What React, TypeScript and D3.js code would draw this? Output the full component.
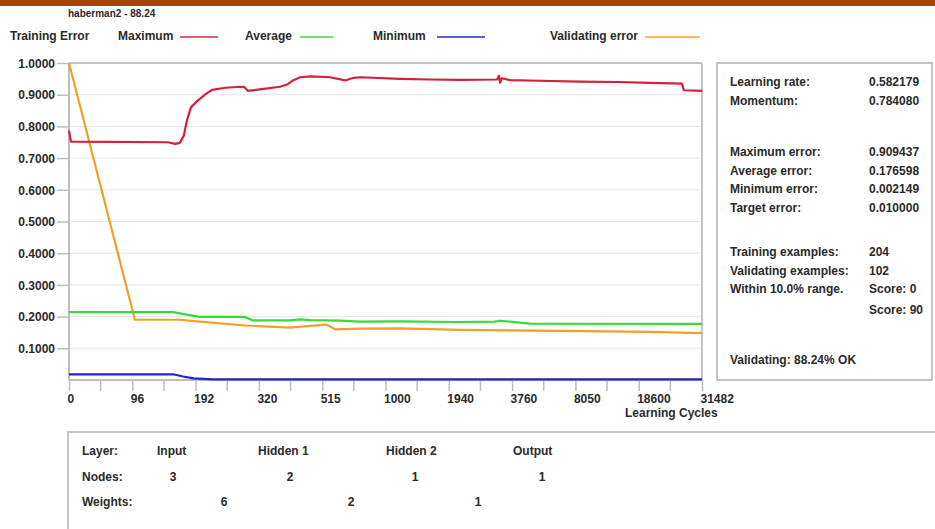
import { useEffect, useRef } from 'react';
import * as d3 from 'd3';

// x axis tick values (learning cycles, uneven spacing)
const cycleTicks = [0, 96, 192, 320, 515, 1000, 1940, 3760, 8050, 18600, 31482];
const errorTicks = [0.1, 0.2, 0.3, 0.4, 0.5, 0.6, 0.7, 0.8, 0.9, 1.0];

// series: [cycle, error]
const maximum: [number, number][] = [
  [0, 0.787], [3, 0.752], [150, 0.75], [161, 0.745], [168, 0.748], [174, 0.77],
  [179, 0.82], [185, 0.86], [195, 0.88], [211, 0.9], [225, 0.915], [252, 0.922],
  [282, 0.925], [290, 0.925], [298, 0.912], [323, 0.917], [385, 0.925], [407, 0.932],
  [425, 0.945], [447, 0.955], [478, 0.958], [576, 0.955], [691, 0.945], [744, 0.952],
  [805, 0.955], [1215, 0.95], [1659, 0.948], [2258, 0.947], [3327, 0.948], [3385, 0.96],
  [3414, 0.938], [3471, 0.952], [3702, 0.946], [5637, 0.944], [8720, 0.941],
  [15418, 0.94], [20850, 0.937], [27392, 0.935], [27801, 0.914], [31482, 0.912],
];
const average: [number, number][] = [
  [0, 0.214], [158, 0.214], [176, 0.207], [201, 0.199], [292, 0.199], [308, 0.188],
  [416, 0.188], [447, 0.191], [478, 0.189], [652, 0.187], [805, 0.184], [1215, 0.185],
  [2171, 0.183], [3269, 0.184], [3414, 0.187], [3702, 0.184], [4966, 0.178], [31482, 0.177],
];
const minimum: [number, number][] = [
  [0, 0.018], [158, 0.018], [173, 0.011], [189, 0.005], [227, 0.002], [31482, 0.002],
];
const validating: [number, number][] = [
  [0, 1.0], [100, 0.19], [168, 0.19], [201, 0.184], [292, 0.172], [416, 0.165],
  [505, 0.173], [546, 0.175], [614, 0.16], [805, 0.162], [1215, 0.163], [2258, 0.158],
  [6978, 0.155], [20850, 0.152], [31482, 0.148],
];

const legendItems = [
  { name: 'Maximum', color: '#d8283c' },
  { name: 'Average', color: '#3ada3a' },
  { name: 'Minimum', color: '#2a2ac8' },
  { name: 'Validating error', color: '#f2a52a' },
];

const statLabels = [
  'Learning rate:', 'Momentum:', '', 'Maximum error:', 'Average error:', 'Minimum error:',
  'Target error:', '', 'Training examples:', 'Validating examples:', 'Within 10.0% range.',
];
const statValues = [
  '0.582179', '0.784080', '', '0.909437', '0.176598', '0.002149', '0.010000', '',
  '204', '102', 'Score: 0', 'Score: 90',
];

const layers = ['Input', 'Hidden 1', 'Hidden 2', 'Output'];
const nodes = [3, 2, 1, 1];
const weights = [6, 2, 1];

const W = 935;
const H = 529;
const FONT = '"Liberation Sans", Arial, sans-serif';
const FS = 12;

export default function App() {
  const svgRef = useRef<SVGSVGElement>(null);

  useEffect(() => {
    if (!svgRef.current) return;
    const svg = d3.select(svgRef.current);
    svg.selectAll('*').remove();

    const left = 69;
    const right = 702;
    const top = 63;
    const bottom = 380;

    const x = d3
      .scaleLinear()
      .domain(cycleTicks)
      .range(cycleTicks.map((_, i) => left + (i * (right - left)) / (cycleTicks.length - 1)));
    const y = d3.scaleLinear().domain([0, 1]).range([bottom, top]);

    svg.append('rect').attr('width', W).attr('height', H).attr('fill', '#fff');
    // top bar
    svg.append('rect').attr('width', W).attr('height', 6).attr('fill', '#a0480c');

    const txt = (px: number, py: number, s: string, size = FS, anchor = 'start') =>
      svg
        .append('text')
        .attr('x', px)
        .attr('y', py)
        .attr('text-anchor', anchor)
        .attr('font-family', FONT)
        .attr('font-size', size)
        .attr('font-weight', 'bold')
        .attr('fill', '#2a2a2a')
        .text(s);

    txt(68, 17, 'haberman2 - 88.24', 10);

    // legend
    txt(10, 40, 'Training Error');
    const legendX = [118, 245, 373, 550];
    const lineX = [180, 300, 437, 645];
    const lineW = [38, 33, 48, 55];
    legendItems.forEach((d, i) => {
      txt(legendX[i], 40, d.name);
      svg
        .append('line')
        .attr('x1', lineX[i])
        .attr('x2', lineX[i] + lineW[i])
        .attr('y1', 37)
        .attr('y2', 37)
        .attr('stroke', d.color)
        .attr('stroke-width', 1.5);
    });

    // grid
    const g = svg.append('g');
    g.selectAll('.grid')
      .data(errorTicks.slice(0, -1))
      .join('line')
      .attr('x1', left)
      .attr('x2', right)
      .attr('y1', (d) => y(d))
      .attr('y2', (d) => y(d))
      .attr('stroke', '#e6e6e6')
      .attr('stroke-width', 1);

    // frame
    g.append('line').attr('x1', left).attr('x2', right).attr('y1', top).attr('y2', top)
      .attr('stroke', '#c4c4c4').attr('stroke-width', 2);
    g.append('line').attr('x1', right).attr('x2', right).attr('y1', top).attr('y2', bottom)
      .attr('stroke', '#c4c4c4').attr('stroke-width', 2);

    // y axis
    const yAxis = g
      .append('g')
      .attr('transform', `translate(${left},0)`)
      .call(d3.axisLeft(y).tickValues(errorTicks).tickFormat(d3.format('.4f')).tickSize(12).tickSizeOuter(0));
    yAxis.select('.domain').attr('stroke', '#bdbdbd').attr('stroke-width', 2)
      .attr('d', `M0,${top}V${bottom}`);
    yAxis.selectAll('.tick line').attr('stroke', '#bdbdbd').attr('stroke-width', 1.5);
    yAxis.selectAll('.tick text')
      .attr('font-family', FONT).attr('font-size', FS).attr('font-weight', 'bold')
      .attr('fill', '#2a2a2a').attr('x', -14).attr('dy', '0.35em');

    // x axis
    const xAxis = g
      .append('g')
      .attr('transform', `translate(0,${bottom})`)
      .call(d3.axisBottom(x).tickValues(cycleTicks).tickFormat(d3.format('d')).tickSize(11).tickSizeOuter(0));
    xAxis.select('.domain').attr('stroke', '#bdbdbd').attr('stroke-width', 2)
      .attr('d', `M${left},0H${right}`);
    xAxis.selectAll('.tick line').attr('stroke', '#bdbdbd').attr('stroke-width', 1.5);
    xAxis.selectAll('.tick text')
      .attr('font-family', FONT).attr('font-size', FS).attr('font-weight', 'bold')
      .attr('fill', '#2a2a2a').attr('text-anchor', 'start').attr('x', -2).attr('y', 14);
    // minor ticks halfway between labelled ticks
    const minor = cycleTicks.slice(1).map((t, i) => (x(t) + x(cycleTicks[i])) / 2);
    xAxis.selectAll('.minor')
      .data(minor)
      .join('line')
      .attr('x1', (d) => d).attr('x2', (d) => d)
      .attr('y1', 0).attr('y2', 11)
      .attr('stroke', '#bdbdbd').attr('stroke-width', 1.5);

    txt(625, 417, 'Learning Cycles');

    // series
    const line = d3
      .line<[number, number]>()
      .x((d) => x(d[0]))
      .y((d) => y(d[1]));
    const series: [[number, number][], string][] = [
      [validating, '#f0a028'],
      [average, '#33dd33'],
      [minimum, '#2222cc'],
      [maximum, '#d42038'],
    ];
    series.forEach(([data, color]) => {
      g.append('path')
        .datum(data)
        .attr('d', line)
        .attr('fill', 'none')
        .attr('stroke', color)
        .attr('stroke-width', 2.2)
        .attr('stroke-linejoin', 'round');
    });

    // stats panel
    svg.append('rect').attr('x', 717).attr('y', 63).attr('width', 215).attr('height', 317)
      .attr('fill', '#fff').attr('stroke', '#c4c4c4').attr('stroke-width', 2);
    const rowY = [86, 105, 0, 156, 175, 193, 212, 0, 256, 275, 293, 314];
    statLabels.forEach((s, i) => { if (s) txt(730, rowY[i], s); });
    statValues.forEach((s, i) => { if (s) txt(869, rowY[i], s); });
    txt(730, 364, 'Validating: 88.24% OK');

    // network panel
    svg.append('rect').attr('x', 68).attr('y', 432).attr('width', 900).attr('height', 120)
      .attr('fill', '#fff').attr('stroke', '#c4c4c4').attr('stroke-width', 2);
    txt(82, 455, 'Layer:');
    txt(82, 481, 'Nodes:');
    txt(82, 506, 'Weights:');
    const layerX = [157, 258, 386, 513];
    const nodeX = [173, 290, 415, 542];
    const weightX = [224, 351, 478];
    layers.forEach((s, i) => txt(layerX[i], 455, s));
    nodes.forEach((n, i) => txt(nodeX[i], 481, String(n), FS, 'middle'));
    weights.forEach((n, i) => txt(weightX[i], 506, String(n), FS, 'middle'));
  }, []);

  return (
    <svg
      ref={svgRef}
      width={W}
      height={H}
      style={{ position: 'absolute', left: 0, top: 0, display: 'block' }}
    />
  );
}
